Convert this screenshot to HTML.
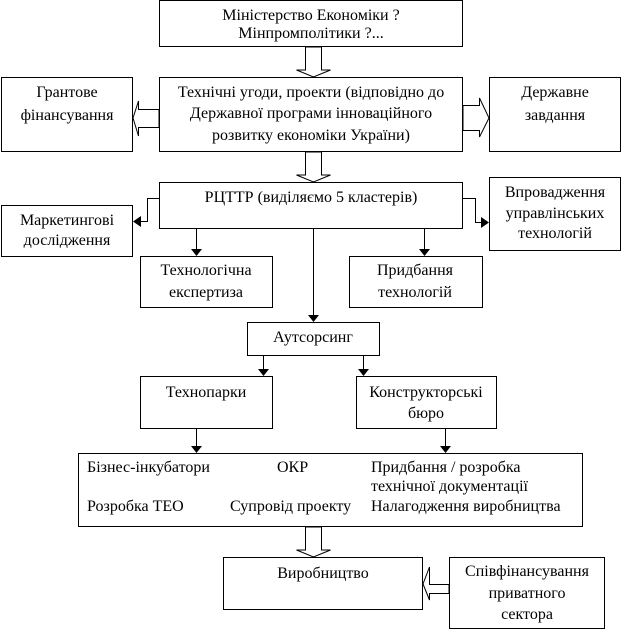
<!DOCTYPE html>
<html><head><meta charset="utf-8"><style>
html,body{margin:0;padding:0;background:#fff;}
svg{display:block;}
text{font-family:"Liberation Serif","DejaVu Serif",serif;font-size:16px;fill:#000;}
</style></head><body>
<svg width="622" height="631" viewBox="0 0 622 631" xmlns="http://www.w3.org/2000/svg">
<g fill="#fff" stroke="#000" stroke-width="1">
<rect x="159.5" y="0.5" width="303" height="46"/>
<rect x="1.5" y="77.5" width="131" height="74"/>
<rect x="159.5" y="77.5" width="303" height="74"/>
<rect x="489.5" y="77.5" width="131" height="74"/>
<rect x="159.5" y="182.5" width="303" height="46"/>
<rect x="1.5" y="205.5" width="131" height="51"/>
<rect x="489.5" y="177.5" width="131" height="73"/>
<rect x="140.5" y="256.5" width="132" height="51"/>
<rect x="349.5" y="256.5" width="133" height="51"/>
<rect x="247.5" y="322.5" width="132" height="33"/>
<rect x="140.5" y="376.5" width="132" height="52"/>
<rect x="356.5" y="376.5" width="140" height="52"/>
<rect x="78.5" y="453.5" width="504" height="73"/>
<rect x="223.5" y="557.5" width="199" height="52"/>
<rect x="449.5" y="557.5" width="155" height="71"/>
<polygon points="305.5,47 305.5,70 296.5,70 313.5,77 330.5,70 321.5,70 321.5,47"/>
<polygon points="305.5,152 305.5,175 296.5,175 313.5,182 330.5,175 321.5,175 321.5,152"/>
<polygon points="305.5,527 305.5,550 296.5,550 313.5,557 330.5,550 321.5,550 321.5,527"/>
<polygon points="159,109.5 138.5,109.5 138.5,101 133,118 138.5,136 138.5,127.5 159,127.5"/>
<polygon points="463,105.5 479.5,105.5 479.5,98 489,118 479.5,137 479.5,130.5 463,130.5"/>
<polygon points="449,584.5 429.5,584.5 429.5,567 423,584 429.5,600 429.5,593.5 449,593.5"/>
</g>
<g fill="none" stroke="#000" stroke-width="1">
<polyline points="159,198.5 147.5,198.5 147.5,221.5 138,221.5"/>
<polyline points="463,198.5 475.5,198.5 475.5,222.5 484,222.5"/>
<line x1="196.5" y1="229" x2="196.5" y2="250"/>
<line x1="424.5" y1="229" x2="424.5" y2="250"/>
<line x1="313.5" y1="229" x2="313.5" y2="316"/>
<line x1="263.5" y1="356" x2="263.5" y2="370"/>
<line x1="363.5" y1="356" x2="363.5" y2="370"/>
<line x1="196.5" y1="429" x2="196.5" y2="447"/>
<line x1="445.5" y1="429" x2="445.5" y2="447"/>
</g>
<g fill="#000">
<polygon points="133,221.5 141,216 141,227"/>
<polygon points="489,222.5 481,217 481,228"/>
<polygon points="191,249 202,249 196.5,256"/>
<polygon points="419,249 430,249 424.5,256"/>
<polygon points="308,315 319,315 313.5,322"/>
<polygon points="258,369 269,369 263.5,376"/>
<polygon points="358,369 369,369 363.5,376"/>
<polygon points="191,446 202,446 196.5,453"/>
<polygon points="440,446 451,446 445.5,453"/>
</g>
<g text-anchor="middle">
<text x="311" y="20">Міністерство Економіки ?</text>
<text x="311" y="38">Мінпромполітики ?...</text>
<text x="67" y="97">Грантове</text>
<text x="67" y="120">фінансування</text>
<text x="311" y="97">Технічні угоди, проекти (відповідно до</text>
<text x="311" y="118">Державної програми інноваційного</text>
<text x="311" y="140">розвитку економіки України)</text>
<text x="555" y="97">Державне</text>
<text x="555" y="120">завдання</text>
<text x="311" y="202">РЦТТР (виділяємо 5 кластерів)</text>
<text x="67" y="225">Маркетингові</text>
<text x="67" y="245">дослідження</text>
<text x="555" y="197">Впровадження</text>
<text x="555" y="218">управлінських</text>
<text x="555" y="238">технологій</text>
<text x="206" y="275">Технологічна</text>
<text x="206" y="297">експертиза</text>
<text x="415" y="275">Придбання</text>
<text x="415" y="297">технологій</text>
<text x="313" y="342">Аутсорсинг</text>
<text x="206" y="397">Технопарки</text>
<text x="426" y="397">Конструкторські</text>
<text x="426" y="418">бюро</text>
<text x="323" y="578">Виробництво</text>
<text x="527" y="576">Співфінансування</text>
<text x="527" y="598">приватного</text>
<text x="527" y="619">сектора</text>
</g>
<text x="87" y="472">Бізнес-інкубатори</text>
<text x="277" y="472">ОКР</text>
<text x="371" y="472">Придбання / розробка</text>
<text x="371" y="491">технічної документації</text>
<text x="87" y="511">Розробка ТЕО</text>
<text x="230" y="511">Супровід проекту</text>
<text x="371" y="511">Налагодження виробництва</text>
</svg>
</body></html>
